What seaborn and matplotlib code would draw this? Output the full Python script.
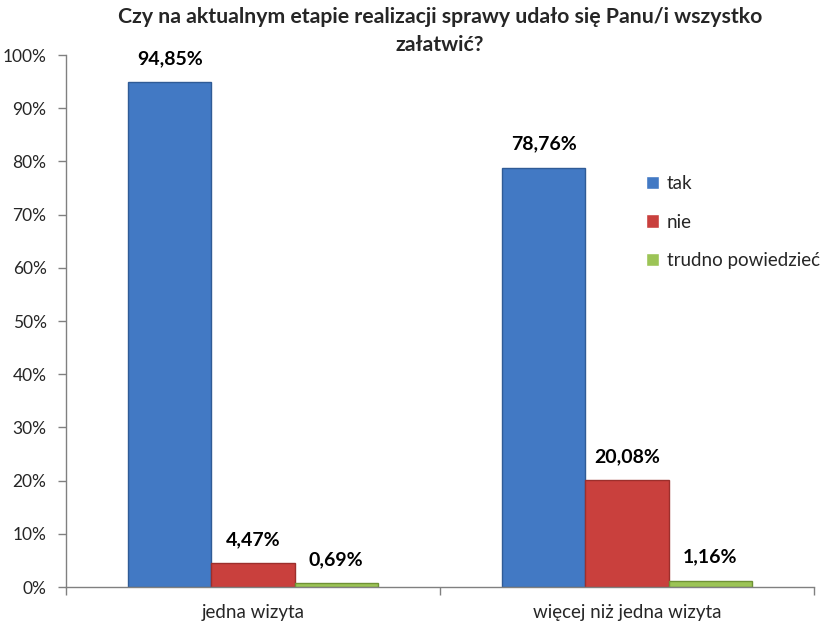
import matplotlib
matplotlib.use("Agg")
import matplotlib.pyplot as plt
import seaborn as sns
import pandas as pd
from matplotlib.ticker import FixedLocator, PercentFormatter

categories = ["jedna wizyta", "więcej niż jedna wizyta"]
series = ["tak", "nie", "trudno powiedzieć"]
tak = [94.85, 78.76]
nie = [4.47, 20.08]
trudno = [0.69, 1.16]
yticks = [0, 10, 20, 30, 40, 50, 60, 70, 80, 90, 100]
title_lines = ["Czy na aktualnym etapie realizacji sprawy udało się Panu/i wszystko",
               "załatwić?"]

rows = []
for name, vals in zip(series, [tak, nie, trudno]):
    for c, v in zip(categories, vals):
        rows.append({"kategoria": c, "odpowiedź": name, "wartość": v})
df = pd.DataFrame(rows)

sns.set_theme(style="white")
plt.rcParams["font.family"] = ["Lato", "DejaVu Sans"]

colors = ["#4279c4", "#c9403d", "#9cc456"]
edges = ["#2f5b96", "#9c2f2c", "#6f9235"]

L, R, B, T = 66, 814, 587, 55
fig = plt.figure(figsize=(8.26, 6.24), dpi=100)
ax = fig.add_axes([L/826, 1-B/624, (R-L)/826, (B-T)/624])

sns.barplot(data=df, x="kategoria", y="wartość", hue="odpowiedź",
            hue_order=series, order=categories, palette=colors,
            width=0.667, ax=ax, saturation=1, legend=True)

for cont, ec in zip(ax.containers, edges):
    for p in cont:
        p.set_edgecolor(ec)
        p.set_linewidth(1.0)
    labels = [f"{v:.2f}%".replace(".", ",") for v in cont.datavalues]
    ax.bar_label(cont, labels=labels, padding=11, fontsize=14,
                 fontweight="bold", color="black")

ax.set_ylim(0, 100)
ax.set_xlim(-0.5, 1.5)
ax.yaxis.set_major_locator(FixedLocator(yticks))
ax.yaxis.set_major_formatter(PercentFormatter(decimals=0))
ax.tick_params(axis="y", which="major", left=True, length=6, width=1,
               color="#808080", labelsize=12.5, pad=8)
ax.set_xticks([0, 1])
ax.set_xticklabels(categories)
ax.tick_params(axis="x", which="major", bottom=False, length=0,
               labelsize=13.5, pad=12)
ax.xaxis.set_minor_locator(FixedLocator([-0.5, 0.5, 1.5]))
ax.tick_params(axis="x", which="minor", bottom=True, length=6, width=1,
               color="#808080")
ax.set_xlabel("")
ax.set_ylabel("")

for s in ["top", "right"]:
    ax.spines[s].set_visible(False)
for s in ["left", "bottom"]:
    ax.spines[s].set_color("#808080")
    ax.spines[s].set_linewidth(1)

leg = ax.legend(title=None, loc="upper left",
                bbox_to_anchor=((646-L)/(R-L), (B-175)/(B-T)),
                frameon=False, fontsize=13.5, handlelength=0.7, handleheight=0.7,
                labelspacing=1.15, handletextpad=0.4, borderaxespad=0,
                borderpad=0)

fig.text(440/826, 1-17/624, title_lines[0], ha="center", va="center",
         fontsize=15.3, fontweight="bold")
fig.text(440/826, 1-45/624, title_lines[1], ha="center", va="center",
         fontsize=15.3, fontweight="bold")

fig.savefig("out.png", dpi=100)
